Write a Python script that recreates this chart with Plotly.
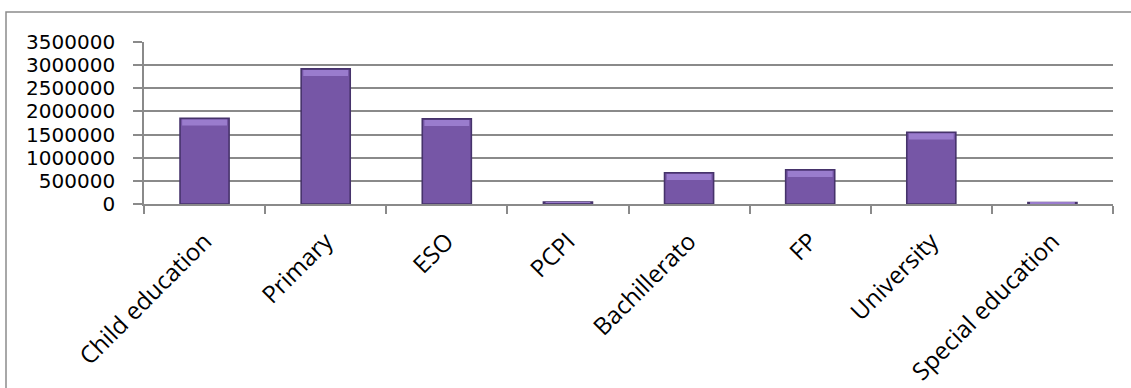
import plotly.graph_objects as go

categories = ["Child education", "Primary", "ESO", "PCPI", "Bachillerato", "FP",
              "University", "Special education"]
students = [1850000, 2920000, 1840000, 40000, 675000, 740000, 1550000, 32000]
y_ticks = [0, 500000, 1000000, 1500000, 2000000, 2500000, 3000000, 3500000]
y_tick_labels = [str(v) for v in y_ticks]

W, H = 1131, 388
L, R, T, B = 144, 18, 42, 184
pw, ph = W - L - R, H - T - B
y_max = 3500000

# bevel highlight band just under the top of each bar (about 6 px tall)
px = y_max / ph
bevel_h = [min(6 * px, v * 0.4) for v in students]
bevel_base = [v - h - 1.2 * px if v > 10 * px else v - h for v, h in zip(students, bevel_h)]

fig = go.Figure()
fig.add_trace(go.Bar(
    x=categories, y=students,
    marker=dict(color="#7656a6", line=dict(color="#46336b", width=1.6)),
))
fig.add_trace(go.Bar(
    x=categories, y=bevel_h, base=bevel_base, width=0.37,
    marker=dict(color="#9a7ccd", line=dict(width=0)),
    hoverinfo="skip",
))

grid = "#8a8a8a"
fig.update_layout(
    width=W, height=H,
    margin=dict(l=L, r=R, t=T, b=B, pad=0, autoexpand=False),
    paper_bgcolor="white", plot_bgcolor="white",
    barmode="overlay", bargap=0.595, showlegend=False,
    font=dict(family="Open Sans", color="black"),
    xaxis=dict(
        automargin=False,
        showgrid=False, showline=True, linecolor=grid, linewidth=1.6,
        ticks="outside", tickson="boundaries", ticklen=8, tickcolor=grid, tickwidth=1.6,
        tickangle=-45, ticklabelstandoff=12,
        tickfont=dict(family="Open Sans", size=24, color="black"),
    ),
    yaxis=dict(
        automargin=False,
        range=[0, y_max], tickvals=y_ticks, ticktext=y_tick_labels,
        showgrid=True, gridcolor=grid, gridwidth=1.6,
        showline=True, linecolor=grid, linewidth=1.6,
        ticks="outside", ticklen=9, tickcolor=grid, tickwidth=1.6,
        ticklabelstandoff=14,
        tickfont=dict(family="DejaVu Sans", size=20, color="black"),
        zeroline=False,
    ),
)

# outer chart frame (left and top edges visible)
x_left = (6 - L) / pw
y_top = 1 + (T - 12) / ph
fig.add_shape(type="rect", xref="paper", yref="paper",
              x0=x_left, x1=(W + 10 - L) / pw, y0=-(B + 10) / ph, y1=y_top,
              line=dict(color="#8c8c8c", width=1.5), fillcolor="rgba(0,0,0,0)",
              layer="below")

fig.write_html("out.html")
